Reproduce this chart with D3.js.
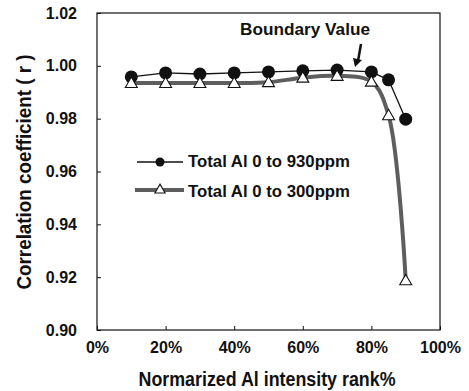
<!DOCTYPE html>
<html>
<head>
<meta charset="utf-8">
<script src="https://cdn.jsdelivr.net/npm/d3@7"></script>
<style>
    body { margin: 0; background: #fff; }
    svg { display: block; font-family: 'Liberation Sans', Arial, sans-serif; font-weight: bold; }
</style>
</head>
<body>
<div class="container"></div>
<script>
const w = 469;
const h = 391;

const margin = {
    top: 13,
    right: 29,
    bottom: 61,
    left: 97
}

// data
const rankPct = [10, 20, 30, 40, 50, 60, 70, 80, 85, 90];
const al930 = [0.9958, 0.9973, 0.9969, 0.9973, 0.9977, 0.9981, 0.9984, 0.9977, 0.9947, 0.9798];
const al300 = [0.9935, 0.9935, 0.9935, 0.9935, 0.9938, 0.9955, 0.9962, 0.9940, 0.9813, 0.9188];
const xTicks = [0, 20, 40, 60, 80, 100];
const yTicks = [0.90, 0.92, 0.94, 0.96, 0.98, 1.00, 1.02];
const seriesNames = ['Total Al 0 to 930ppm', 'Total Al 0 to 300ppm'];

const svg = d3.select('.container')
    .append('svg')
    .attr('width', w)
    .attr('height', h);

const x = d3.scaleLinear().domain([0, 100]).range([margin.left, w - margin.right]);
const y = d3.scaleLinear().domain([0.90, 1.02]).range([h - margin.bottom, margin.top]);

// frame
svg.append('rect')
    .attr('x', x(0))
    .attr('y', y(1.02))
    .attr('width', x(100) - x(0))
    .attr('height', y(0.90) - y(1.02))
    .attr('fill', 'none')
    .attr('stroke', '#111')
    .attr('stroke-width', 1.2);

// axes with inward ticks
const xAxis = svg.append('g')
    .attr('transform', `translate(0, ${y(0.90)})`)
    .call(d3.axisBottom(x).tickValues(xTicks).tickSizeInner(-4).tickSizeOuter(0).tickPadding(12).tickFormat(d => d + '%'));
const yAxis = svg.append('g')
    .attr('transform', `translate(${x(0)}, 0)`)
    .call(d3.axisLeft(y).tickValues(yTicks).tickSizeInner(-4).tickSizeOuter(0).tickPadding(20).tickFormat(d3.format('.2f')));

[xAxis, yAxis].forEach(a => {
    a.select('.domain').remove();
    a.selectAll('line').attr('stroke', '#111');
    a.selectAll('text')
        .attr('fill', '#111')
        .style('font-size', '16px')
        .style('font-family', "'Liberation Sans', Arial, sans-serif")
        .style('font-weight', 'bold');
});
xAxis.selectAll('text').attr('dy', '0.71em');

// axis titles
svg.append('text')
    .attr('x', 267)
    .attr('y', 386)
    .attr('text-anchor', 'middle')
    .attr('textLength', 257)
    .attr('lengthAdjust', 'spacingAndGlyphs')
    .style('font-size', '20px')
    .attr('fill', '#111')
    .text('Normarized Al intensity rank%');

svg.append('text')
    .attr('transform', 'translate(31, 172) rotate(-90)')
    .attr('text-anchor', 'middle')
    .attr('textLength', 235)
    .attr('lengthAdjust', 'spacingAndGlyphs')
    .style('font-size', '20px')
    .attr('fill', '#111')
    .text('Correlation coefficient ( r )');

const pts930 = rankPct.map((d, i) => [d, al930[i]]);
const pts300 = rankPct.map((d, i) => [d, al300[i]]);

const straight = d3.line().x(d => x(d[0])).y(d => y(d[1]));
const smooth = d3.line().x(d => x(d[0])).y(d => y(d[1])).curve(d3.curveCatmullRom.alpha(0.5));

// gray series (thick, smoothed)
svg.append('path')
    .attr('d', smooth(pts300))
    .attr('fill', 'none')
    .attr('stroke', '#5e5e5e')
    .attr('stroke-width', 4);

// black series
svg.append('path')
    .attr('d', straight(pts930))
    .attr('fill', 'none')
    .attr('stroke', '#111')
    .attr('stroke-width', 1.3);

const tri = d3.symbol().type(d3.symbolTriangle);

svg.append('g').selectAll('circle')
    .data(pts930)
    .join('circle')
    .attr('cx', d => x(d[0]))
    .attr('cy', d => y(d[1]))
    .attr('r', 6.5)
    .attr('fill', '#111');

svg.append('g').selectAll('path')
    .data(pts300)
    .join('path')
    .attr('transform', d => `translate(${x(d[0])}, ${y(d[1]) + 1})`)
    .attr('d', tri.size(62)())
    .attr('fill', '#fff')
    .attr('stroke', '#111')
    .attr('stroke-width', 1.1);

// legend
const legend = svg.append('g');
legend.append('line')
    .attr('x1', 137).attr('x2', 183).attr('y1', 162).attr('y2', 162)
    .attr('stroke', '#111').attr('stroke-width', 1.3);
legend.append('circle')
    .attr('cx', 160).attr('cy', 162).attr('r', 4.5).attr('fill', '#111');
legend.append('line')
    .attr('x1', 135).attr('x2', 184).attr('y1', 190).attr('y2', 190)
    .attr('stroke', '#5e5e5e').attr('stroke-width', 4);
legend.append('path')
    .attr('transform', 'translate(160, 190)')
    .attr('d', tri.size(45)())
    .attr('fill', '#fff')
    .attr('stroke', '#111')
    .attr('stroke-width', 1.1);
legend.selectAll('text.lbl')
    .data(seriesNames)
    .join('text')
    .attr('class', 'lbl')
    .attr('x', 188)
    .attr('y', (d, i) => 167 + i * 30)
    .attr('textLength', 162)
    .attr('lengthAdjust', 'spacingAndGlyphs')
    .style('font-size', '17px')
    .attr('fill', '#111')
    .text(d => d);

// boundary annotation
svg.append('text')
    .attr('x', 305)
    .attr('y', 35)
    .attr('text-anchor', 'middle')
    .attr('textLength', 130)
    .attr('lengthAdjust', 'spacingAndGlyphs')
    .style('font-size', '17px')
    .attr('fill', '#111')
    .text('Boundary Value');

svg.append('path')
    .attr('d', 'M361,44 L358,61')
    .attr('stroke', '#111')
    .attr('stroke-width', 2.5)
    .attr('fill', 'none');
svg.append('path')
    .attr('d', 'M353,58 L355,67 L362,60 Z')
    .attr('fill', '#111');
</script>
</body>
</html>
